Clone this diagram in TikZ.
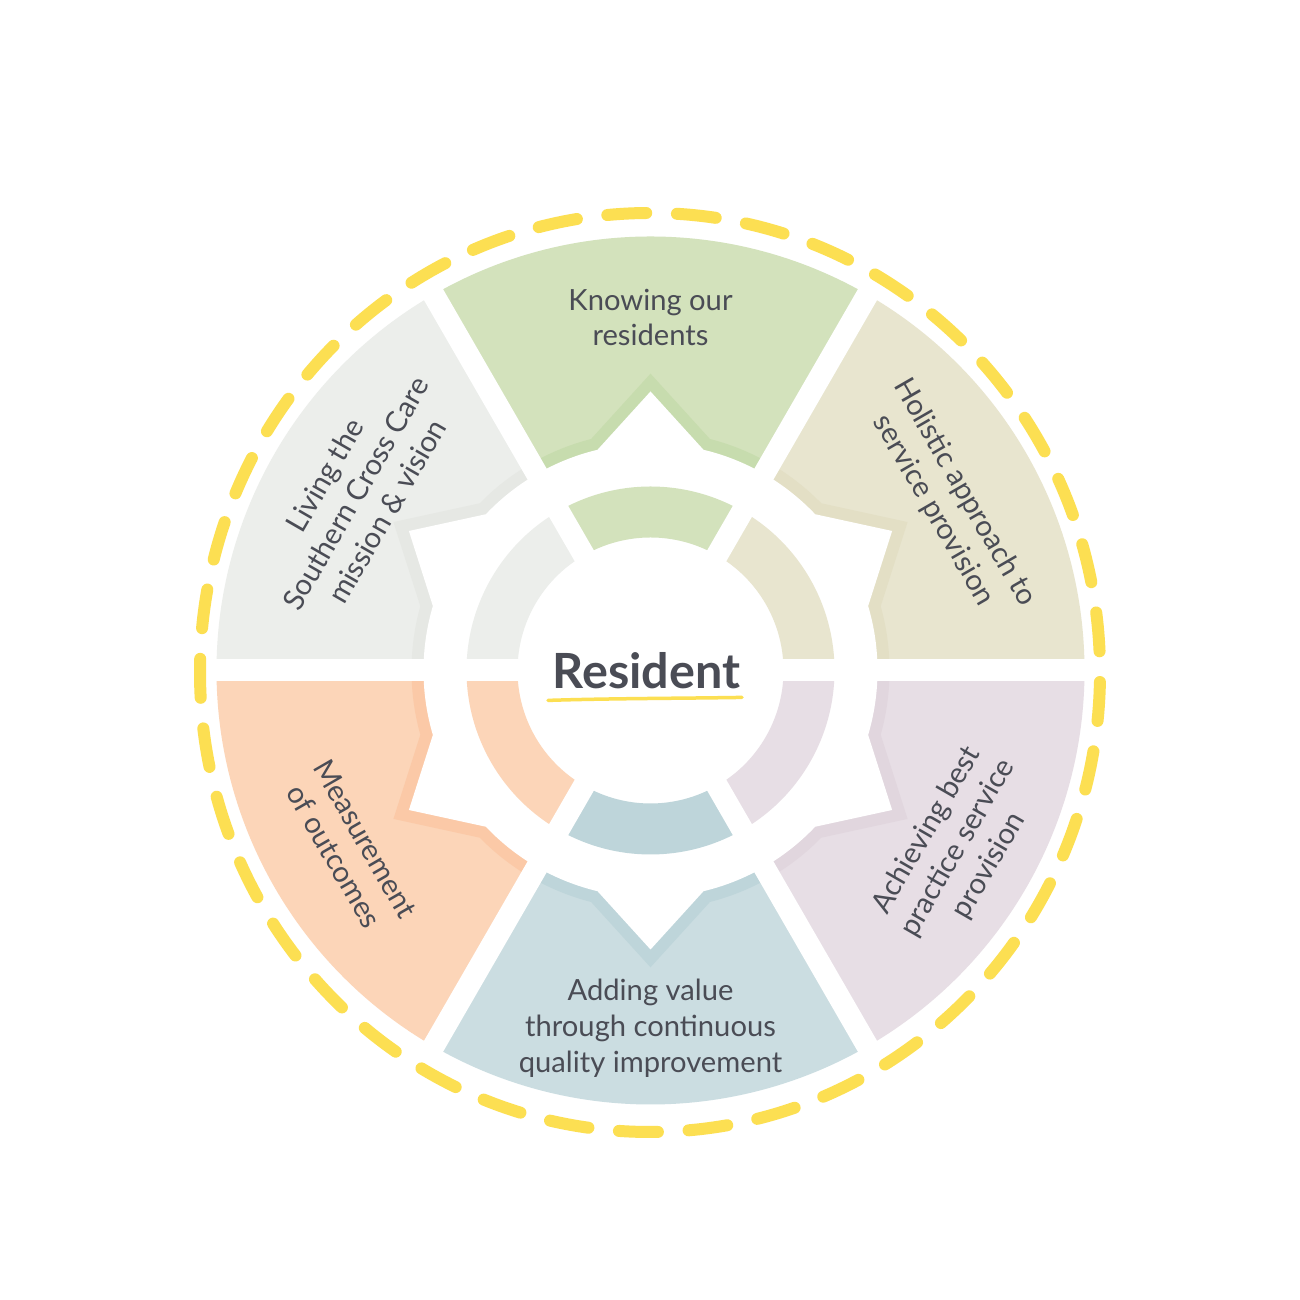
\documentclass[tikz,border=0pt]{standalone}
\usepackage{tikz}
\usepackage{xcolor}
\usepackage{fontspec}
\setmainfont{Lato}

\definecolor{knowgreen}{HTML}{D3E2BC}
\definecolor{knowgreenband}{HTML}{C7DCAE}
\definecolor{holitan}{HTML}{E8E5CF}
\definecolor{holitanband}{HTML}{E3DFC5}
\definecolor{bestlilac}{HTML}{E7DEE5}
\definecolor{bestlilacband}{HTML}{E1D6DE}
\definecolor{valueblue}{HTML}{CBDDE1}
\definecolor{valueblueband}{HTML}{BED5DA}
\definecolor{measorange}{HTML}{FCD5B8}
\definecolor{measorangeband}{HTML}{FBC9A7}
\definecolor{livegray}{HTML}{ECEEEB}
\definecolor{livegrayband}{HTML}{E6E8E4}
\definecolor{labelgray}{HTML}{4A4C55}
\definecolor{ringyellow}{HTML}{FCDF52}

\tikzset{sectortext/.style={font=\fontsize{8.3}{10.2}\selectfont, text=labelgray, align=center, inner sep=0pt}}

\begin{document}
\begin{tikzpicture}
    \fill[white] (0,0) rectangle (13,13);
    \useasboundingbox (0,0) rectangle (13,13);
    \coordinate (c) at (6.505,6.295);

    % Outer sectors, inner ring pieces
    \foreach \a/\col/\band/\ring in {90/knowgreen/knowgreenband/knowgreen, 30/holitan/holitanband/holitan, -30/bestlilac/bestlilacband/bestlilac, -90/valueblue/valueblueband/valueblueband, -150/measorange/measorangeband/measorange, 150/livegray/livegrayband/livegray}{
        \begin{scope}[shift={(c)}]
            \fill[\col] (\a-30:4.34) arc[start angle=\a-30, end angle=\a+30, radius=4.34]
                -- (\a+30:2.27) arc[start angle=\a+30, end angle=\a+13.5, radius=2.27]
                -- (\a:2.79) -- (\a-13.5:2.27)
                arc[start angle=\a-13.5, end angle=\a-30, radius=2.27] -- cycle;
            \draw[\band, line width=0.24cm, line join=miter] (\a-30:2.27)
                arc[start angle=\a-30, end angle=\a-13.5, radius=2.27]
                -- (\a:2.79) -- (\a+13.5:2.27)
                arc[start angle=\a+13.5, end angle=\a+30, radius=2.27];
            \fill[white] (0,0) -- (\a-30:2.27)
                arc[start angle=\a-30, end angle=\a-13.5, radius=2.27]
                -- (\a:2.79) -- (\a+13.5:2.27)
                arc[start angle=\a+13.5, end angle=\a+30, radius=2.27] -- cycle;
            \fill[\ring] (\a-30:1.84) arc[start angle=\a-30, end angle=\a+30, radius=1.84]
                -- (\a+30:1.33) arc[start angle=\a+30, end angle=\a-30, radius=1.33] -- cycle;
        \end{scope}
    }

    % White gaps
    \foreach \a in {0,60,120}
        \draw[white, line width=0.22cm] ([shift={(\a:4.45)}]c) -- ([shift={(\a+180:4.45)}]c);

    % Dashed yellow ring
    \draw[ringyellow, line width=0.12cm, line cap=round, dash pattern=on 0.39cm off 0.307cm, dash phase=0.485cm]
        (6.50,6.275) ellipse[x radius=4.50, y radius=4.595];

    % Sector texts
    \node[sectortext] (knowing) at ([shift={(90:3.53)}]c) {Knowing our\\residents};
    \node[sectortext, rotate=-60] (holistic) at ([shift={(29.5:3.43)}]c) {Holistic approach to\\service provision};
    \node[sectortext, rotate=60] (bestpractice) at ([shift={(-30:3.55)}]c) {Achieving best\\practice service\\provision};
    \node[sectortext] (addingvalue) at ([shift={(-90:3.58)}]c) {Adding value\\through continuous\\quality improvement};
    \node[sectortext, rotate=-60] (measurement) at ([shift={(210.5:3.49)}]c) {Measurement\\of outcomes};
    \node[sectortext, rotate=60] (living) at ([shift={(149:3.44)}]c) {Living the\\Southern Cross Care\\mission \& vision};

    % Centre
    \node[font=\fontsize{13.8}{16}\selectfont\bfseries, text=labelgray, inner sep=0pt] (resident) at ([xshift=-0.04cm]c) {Resident};
    \draw[ringyellow, line width=0.035cm, line cap=round] ([shift={(-0.04,-0.11)}]resident.south west)
        .. controls +(0.6,0.02) and +(-0.6,-0.01) .. ([shift={(0.01,-0.08)}]resident.south east);

\end{tikzpicture}
\end{document}
